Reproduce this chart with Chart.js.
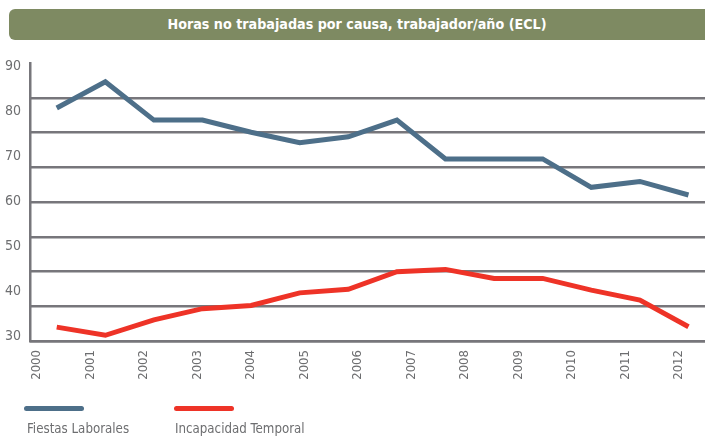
<!DOCTYPE html>
<html>
<head>
<meta charset="utf-8">
<script src="https://cdn.jsdelivr.net/npm/chart.js@4/dist/chart.umd.min.js"></script>
<style>
  html, body { margin: 0; padding: 0; background: #ffffff; }
  body { width: 705px; height: 437px; position: relative; overflow: hidden; }
  #banner {
    position: absolute; left: 9px; top: 9px; width: 710px; height: 31px;
    background: #7e8a62; border-radius: 6px;
  }
  #title {
    position: absolute; left: 9px; top: 9px; width: 696px; height: 31px; line-height: 31px;
    text-align: center; color: #ffffff; font-family: "Liberation Sans Narrow", "DejaVu Sans Condensed", sans-serif;
    font-weight: bold; font-size: 14.2px;
  }
  #wrap { position: absolute; left: 0; top: 0; width: 705px; height: 437px; }
  .lg-line { position: absolute; height: 5px; width: 60px; border-radius: 3px; top: 406px; }
  .lg-text { position: absolute; top: 421px; font-family: "Liberation Sans Narrow", "DejaVu Sans Condensed", sans-serif;
    font-size: 13.2px; color: #6d6e70; white-space: nowrap; }
</style>
</head>
<body>
<div id="banner"></div>
<div id="title">Horas no trabajadas por causa, trabajador/año (ECL)</div>
<div id="wrap"><canvas id="c" width="705" height="437"></canvas></div>
<div id="legend"></div>
<script>
const chartTitle = "Horas no trabajadas por causa, trabajador/año (ECL)";
const yearLabels = ["2000","2001","2002","2003","2004","2005","2006","2007","2008","2009","2010","2011","2012"];
const yTickLabels = [30, 40, 50, 60, 70, 80, 90];
const seriesNames = ["Fiestas Laborales", "Incapacidad Temporal"];
const seriesColors = ["#4d6f89", "#ee3327"];
const fiestasLaborales = [80.7, 86.5, 78.0, 78.0, 75.3, 73.0, 74.3, 78.0, 69.4, 69.4, 69.4, 63.1, 64.4, 61.4];
const incapacidadTemporal = [32.1, 30.3, 33.7, 36.2, 36.9, 39.7, 40.5, 44.4, 44.9, 42.9, 42.9, 40.3, 38.1, 32.2];

const gridGray = "#77767b";
const textGray = "#6d6e70";
const tickFont = "'Liberation Sans Narrow', 'DejaVu Sans Condensed', sans-serif";

function toPoints(arr) { return arr.map((v, i) => ({ x: i, y: v })); }

const ctx = document.getElementById('c').getContext('2d');
new Chart(ctx, {
  type: 'line',
  data: {
    datasets: [
      { label: seriesNames[0], data: toPoints(fiestasLaborales), borderColor: seriesColors[0], backgroundColor: seriesColors[0],
        borderWidth: 5, pointRadius: 0, tension: 0, xAxisID: 'xd', yAxisID: 'y', borderCapStyle: 'butt', borderJoinStyle: 'miter' },
      { label: seriesNames[1], data: toPoints(incapacidadTemporal), borderColor: seriesColors[1], backgroundColor: seriesColors[1],
        borderWidth: 5, pointRadius: 0, tension: 0, xAxisID: 'xd', yAxisID: 'y', borderCapStyle: 'butt', borderJoinStyle: 'miter' }
    ]
  },
  options: {
    responsive: false,
    animation: false,
    events: [],
    layout: { padding: { top: 63, bottom: 50, left: 0, right: 0 } },
    plugins: { legend: { display: false }, title: { display: false }, tooltip: { enabled: false } },
    scales: {
      x: {
        type: 'linear', position: 'bottom', min: -0.13, max: 12.49,
        afterBuildTicks: (s) => { s.ticks = yearLabels.map((_, i) => ({ value: i })); },
        afterFit: (s) => { s.height = 46; s.paddingLeft = 0; s.paddingRight = 0; },
        ticks: { autoSkip: false, maxRotation: 90, minRotation: 90, padding: 9, color: textGray,
          font: { family: tickFont, size: 13 }, callback: (v) => yearLabels[Math.round(v)] },
        grid: { display: false, drawTicks: false },
        border: { display: true, color: gridGray, width: 2.5 }
      },
      xd: {
        type: 'linear', display: false, min: -0.55, max: 13.34
      },
      y: {
        type: 'linear', position: 'left', min: 29.03, max: 90.66,
        afterBuildTicks: (s) => { s.ticks = yTickLabels.map(v => ({ value: v })); },
        afterFit: (s) => { s.width = 30; },
        ticks: { padding: 9, color: textGray, font: { family: tickFont, size: 14 } },
        grid: { display: false, drawTicks: false },
        border: { display: true, color: gridGray, width: 2.5 }
      },
      yg: {
        type: 'linear', position: 'left', min: 0, max: 8,
        afterBuildTicks: (s) => { s.ticks = [0,1,2,3,4,5,6,7,8].map(v => ({ value: v })); },
        afterFit: (s) => { s.width = 0; },
        ticks: { display: false },
        grid: { display: true, drawTicks: false, lineWidth: 2.5,
          color: (c) => (c.tick && c.tick.value === 8) ? 'rgba(0,0,0,0)' : gridGray },
        border: { display: false }
      }
    }
  }
});

const legendEl = document.getElementById('legend');
const legendX = [24, 174];
const legendTextX = [27, 175];
seriesNames.forEach((name, i) => {
  const line = document.createElement('div');
  line.className = 'lg-line';
  line.style.left = legendX[i] + 'px';
  line.style.background = seriesColors[i];
  legendEl.appendChild(line);
  const t = document.createElement('div');
  t.className = 'lg-text';
  t.style.left = legendTextX[i] + 'px';
  t.textContent = name;
  legendEl.appendChild(t);
});
</script>
</body>
</html>
